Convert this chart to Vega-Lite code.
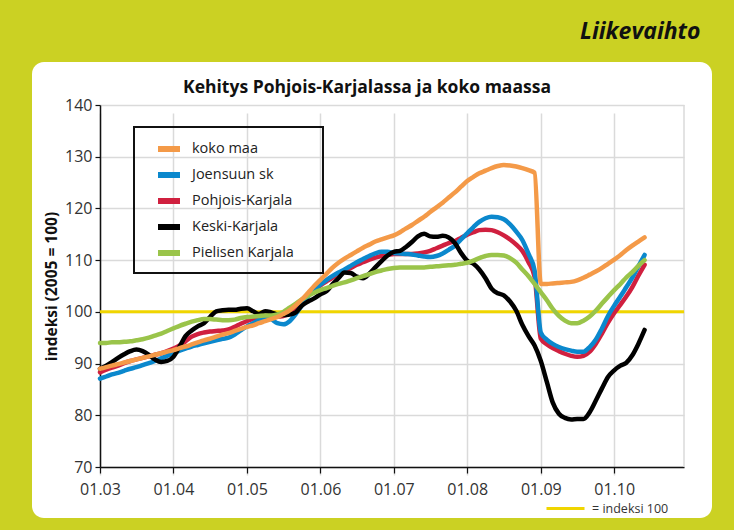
{
  "$schema": "https://vega.github.io/schema/vega-lite/v6.json",
  "width": 680,
  "height": 456,
  "autosize": {"type": "none"},
  "padding": {"left": 32, "top": 62, "right": 22, "bottom": 12},
  "background": "#cbd123",
  "title": {"text": "Kehitys Pohjois-Karjalassa ja koko maassa", "frame": "group", "anchor": "middle", "offset": -32, "dy": 58, "baseline": "alphabetic", "fontSize": 17.5, "font": "Open Sans", "fontWeight": "bold", "color": "#111111", "dx": -5},
  "config": {
    "view": {"fill": "white", "stroke": null, "cornerRadius": 12},
    "font": "Open Sans",
    "legend": {"strokeWidth": 2}
  },
  "layer": [
    {
      "data": {"values": [{}]},
      "mark": {"type": "rule", "color": "#dadada", "strokeWidth": 1.5},
      "encoding": {
        "x": {"datum": {"year": 2010, "month": 12, "date": 14, "utc": true}, "type": "temporal"},
        "y": {"datum": 70, "type": "quantitative"},
        "y2": {"datum": 140}
      }
    },
    {
      "data": {"values": [{"ref": "= indeksi 100", "v": 100}]},
      "mark": {"type": "rule", "strokeWidth": 3},
      "encoding": {
        "x": {"datum": {"year": 2003, "month": 1, "date": 1, "utc": true}, "type": "temporal"},
        "x2": {"datum": {"year": 2010, "month": 12, "date": 14, "utc": true}},
        "y": {"field": "v", "type": "quantitative"},
        "stroke": {"field": "ref", "type": "nominal", "scale": {"range": ["#f0d500"]},
          "legend": {"orient": "none", "legendX": 513, "legendY": 426, "title": null, "symbolType": "stroke", "symbolSize": 1444, "symbolStrokeWidth": 3, "labelFontSize": 12.5, "labelColor": "#333333", "padding": 0, "labelOffset": 6}}
      }
    },
    {
      "data": {"values": [
{"d":"2003-01","s":"Pohjois-Karjala","v":88.3},{"d":"2003-02","s":"Pohjois-Karjala","v":88.8},{"d":"2003-03","s":"Pohjois-Karjala","v":89.2},{"d":"2003-04","s":"Pohjois-Karjala","v":89.6},{"d":"2003-05","s":"Pohjois-Karjala","v":90.1},{"d":"2003-06","s":"Pohjois-Karjala","v":90.5},{"d":"2003-07","s":"Pohjois-Karjala","v":90.8},{"d":"2003-08","s":"Pohjois-Karjala","v":91.1},{"d":"2003-09","s":"Pohjois-Karjala","v":91.4},{"d":"2003-10","s":"Pohjois-Karjala","v":91.7},{"d":"2003-11","s":"Pohjois-Karjala","v":92.0},{"d":"2003-12","s":"Pohjois-Karjala","v":92.4},
{"d":"2004-01","s":"Pohjois-Karjala","v":92.9},{"d":"2004-02","s":"Pohjois-Karjala","v":93.5},{"d":"2004-03","s":"Pohjois-Karjala","v":94.3},{"d":"2004-04","s":"Pohjois-Karjala","v":95.2},{"d":"2004-05","s":"Pohjois-Karjala","v":95.7},{"d":"2004-06","s":"Pohjois-Karjala","v":96.0},{"d":"2004-07","s":"Pohjois-Karjala","v":96.2},{"d":"2004-08","s":"Pohjois-Karjala","v":96.3},{"d":"2004-09","s":"Pohjois-Karjala","v":96.4},{"d":"2004-10","s":"Pohjois-Karjala","v":96.6},{"d":"2004-11","s":"Pohjois-Karjala","v":97.1},{"d":"2004-12","s":"Pohjois-Karjala","v":97.7},
{"d":"2005-01","s":"Pohjois-Karjala","v":98.2},{"d":"2005-02","s":"Pohjois-Karjala","v":98.7},{"d":"2005-03","s":"Pohjois-Karjala","v":99.0},{"d":"2005-04","s":"Pohjois-Karjala","v":99.2},{"d":"2005-05","s":"Pohjois-Karjala","v":99.2},{"d":"2005-06","s":"Pohjois-Karjala","v":99.1},{"d":"2005-07","s":"Pohjois-Karjala","v":99.2},{"d":"2005-08","s":"Pohjois-Karjala","v":99.8},{"d":"2005-09","s":"Pohjois-Karjala","v":100.8},{"d":"2005-10","s":"Pohjois-Karjala","v":102.0},{"d":"2005-11","s":"Pohjois-Karjala","v":103.2},{"d":"2005-12","s":"Pohjois-Karjala","v":104.2},
{"d":"2006-01","s":"Pohjois-Karjala","v":105.1},{"d":"2006-02","s":"Pohjois-Karjala","v":105.9},{"d":"2006-03","s":"Pohjois-Karjala","v":106.6},{"d":"2006-04","s":"Pohjois-Karjala","v":107.3},{"d":"2006-05","s":"Pohjois-Karjala","v":107.9},{"d":"2006-06","s":"Pohjois-Karjala","v":108.5},{"d":"2006-07","s":"Pohjois-Karjala","v":109.1},{"d":"2006-08","s":"Pohjois-Karjala","v":109.6},{"d":"2006-09","s":"Pohjois-Karjala","v":110.1},{"d":"2006-10","s":"Pohjois-Karjala","v":110.5},{"d":"2006-11","s":"Pohjois-Karjala","v":110.8},{"d":"2006-12","s":"Pohjois-Karjala","v":111.0},
{"d":"2007-01","s":"Pohjois-Karjala","v":111.2},{"d":"2007-02","s":"Pohjois-Karjala","v":111.2},{"d":"2007-03","s":"Pohjois-Karjala","v":111.2},{"d":"2007-04","s":"Pohjois-Karjala","v":111.2},{"d":"2007-05","s":"Pohjois-Karjala","v":111.3},{"d":"2007-06","s":"Pohjois-Karjala","v":111.5},{"d":"2007-07","s":"Pohjois-Karjala","v":111.8},{"d":"2007-08","s":"Pohjois-Karjala","v":112.3},{"d":"2007-09","s":"Pohjois-Karjala","v":112.8},{"d":"2007-10","s":"Pohjois-Karjala","v":113.3},{"d":"2007-11","s":"Pohjois-Karjala","v":113.7},{"d":"2007-12","s":"Pohjois-Karjala","v":114.3},
{"d":"2008-01","s":"Pohjois-Karjala","v":114.9},{"d":"2008-02","s":"Pohjois-Karjala","v":115.4},{"d":"2008-03","s":"Pohjois-Karjala","v":115.8},{"d":"2008-04","s":"Pohjois-Karjala","v":115.9},{"d":"2008-05","s":"Pohjois-Karjala","v":115.8},{"d":"2008-06","s":"Pohjois-Karjala","v":115.4},{"d":"2008-07","s":"Pohjois-Karjala","v":114.8},{"d":"2008-08","s":"Pohjois-Karjala","v":114.0},{"d":"2008-09","s":"Pohjois-Karjala","v":113.0},{"d":"2008-10","s":"Pohjois-Karjala","v":111.8},{"d":"2008-11","s":"Pohjois-Karjala","v":109.6},{"d":"2008-12","s":"Pohjois-Karjala","v":106.8},
{"d":"2009-01","s":"Pohjois-Karjala","v":94.8},{"d":"2009-02","s":"Pohjois-Karjala","v":93.7},{"d":"2009-03","s":"Pohjois-Karjala","v":93.0},{"d":"2009-04","s":"Pohjois-Karjala","v":92.4},{"d":"2009-05","s":"Pohjois-Karjala","v":91.9},{"d":"2009-06","s":"Pohjois-Karjala","v":91.5},{"d":"2009-07","s":"Pohjois-Karjala","v":91.3},{"d":"2009-08","s":"Pohjois-Karjala","v":91.5},{"d":"2009-09","s":"Pohjois-Karjala","v":92.3},{"d":"2009-10","s":"Pohjois-Karjala","v":93.8},{"d":"2009-11","s":"Pohjois-Karjala","v":95.8},{"d":"2009-12","s":"Pohjois-Karjala","v":97.9},
{"d":"2010-01","s":"Pohjois-Karjala","v":99.8},{"d":"2010-02","s":"Pohjois-Karjala","v":101.4},{"d":"2010-03","s":"Pohjois-Karjala","v":102.9},{"d":"2010-04","s":"Pohjois-Karjala","v":104.8},{"d":"2010-05","s":"Pohjois-Karjala","v":107.0},{"d":"2010-06","s":"Pohjois-Karjala","v":109.1},

{"d":"2003-01","s":"Joensuun sk","v":87.1},{"d":"2003-02","s":"Joensuun sk","v":87.5},{"d":"2003-03","s":"Joensuun sk","v":87.9},{"d":"2003-04","s":"Joensuun sk","v":88.2},{"d":"2003-05","s":"Joensuun sk","v":88.6},{"d":"2003-06","s":"Joensuun sk","v":89.0},{"d":"2003-07","s":"Joensuun sk","v":89.3},{"d":"2003-08","s":"Joensuun sk","v":89.7},{"d":"2003-09","s":"Joensuun sk","v":90.1},{"d":"2003-10","s":"Joensuun sk","v":90.5},{"d":"2003-11","s":"Joensuun sk","v":91.0},{"d":"2003-12","s":"Joensuun sk","v":91.5},
{"d":"2004-01","s":"Joensuun sk","v":92.0},{"d":"2004-02","s":"Joensuun sk","v":92.5},{"d":"2004-03","s":"Joensuun sk","v":92.9},{"d":"2004-04","s":"Joensuun sk","v":93.3},{"d":"2004-05","s":"Joensuun sk","v":93.6},{"d":"2004-06","s":"Joensuun sk","v":93.9},{"d":"2004-07","s":"Joensuun sk","v":94.2},{"d":"2004-08","s":"Joensuun sk","v":94.5},{"d":"2004-09","s":"Joensuun sk","v":94.8},{"d":"2004-10","s":"Joensuun sk","v":95.0},{"d":"2004-11","s":"Joensuun sk","v":95.6},{"d":"2004-12","s":"Joensuun sk","v":96.4},
{"d":"2005-01","s":"Joensuun sk","v":97.2},{"d":"2005-02","s":"Joensuun sk","v":97.8},{"d":"2005-03","s":"Joensuun sk","v":98.4},{"d":"2005-04","s":"Joensuun sk","v":98.8},{"d":"2005-05","s":"Joensuun sk","v":98.6},{"d":"2005-06","s":"Joensuun sk","v":97.8},{"d":"2005-07","s":"Joensuun sk","v":97.6},{"d":"2005-08","s":"Joensuun sk","v":98.2},{"d":"2005-09","s":"Joensuun sk","v":99.6},{"d":"2005-10","s":"Joensuun sk","v":101.3},{"d":"2005-11","s":"Joensuun sk","v":103.0},{"d":"2005-12","s":"Joensuun sk","v":104.2},
{"d":"2006-01","s":"Joensuun sk","v":105.3},{"d":"2006-02","s":"Joensuun sk","v":106.2},{"d":"2006-03","s":"Joensuun sk","v":106.9},{"d":"2006-04","s":"Joensuun sk","v":107.6},{"d":"2006-05","s":"Joensuun sk","v":108.2},{"d":"2006-06","s":"Joensuun sk","v":108.9},{"d":"2006-07","s":"Joensuun sk","v":109.6},{"d":"2006-08","s":"Joensuun sk","v":110.2},{"d":"2006-09","s":"Joensuun sk","v":110.8},{"d":"2006-10","s":"Joensuun sk","v":111.3},{"d":"2006-11","s":"Joensuun sk","v":111.6},{"d":"2006-12","s":"Joensuun sk","v":111.6},
{"d":"2007-01","s":"Joensuun sk","v":111.4},{"d":"2007-02","s":"Joensuun sk","v":111.3},{"d":"2007-03","s":"Joensuun sk","v":111.2},{"d":"2007-04","s":"Joensuun sk","v":111.1},{"d":"2007-05","s":"Joensuun sk","v":110.9},{"d":"2007-06","s":"Joensuun sk","v":110.7},{"d":"2007-07","s":"Joensuun sk","v":110.6},{"d":"2007-08","s":"Joensuun sk","v":110.8},{"d":"2007-09","s":"Joensuun sk","v":111.3},{"d":"2007-10","s":"Joensuun sk","v":112.0},{"d":"2007-11","s":"Joensuun sk","v":112.8},{"d":"2007-12","s":"Joensuun sk","v":114.0},
{"d":"2008-01","s":"Joensuun sk","v":115.2},{"d":"2008-02","s":"Joensuun sk","v":116.4},{"d":"2008-03","s":"Joensuun sk","v":117.4},{"d":"2008-04","s":"Joensuun sk","v":118.1},{"d":"2008-05","s":"Joensuun sk","v":118.4},{"d":"2008-06","s":"Joensuun sk","v":118.3},{"d":"2008-07","s":"Joensuun sk","v":117.9},{"d":"2008-08","s":"Joensuun sk","v":116.9},{"d":"2008-09","s":"Joensuun sk","v":115.5},{"d":"2008-10","s":"Joensuun sk","v":113.9},{"d":"2008-11","s":"Joensuun sk","v":111.2},{"d":"2008-12","s":"Joensuun sk","v":108.0},
{"d":"2009-01","s":"Joensuun sk","v":96.0},{"d":"2009-02","s":"Joensuun sk","v":94.6},{"d":"2009-03","s":"Joensuun sk","v":93.8},{"d":"2009-04","s":"Joensuun sk","v":93.2},{"d":"2009-05","s":"Joensuun sk","v":92.8},{"d":"2009-06","s":"Joensuun sk","v":92.5},{"d":"2009-07","s":"Joensuun sk","v":92.3},{"d":"2009-08","s":"Joensuun sk","v":92.3},{"d":"2009-09","s":"Joensuun sk","v":93.2},{"d":"2009-10","s":"Joensuun sk","v":94.6},{"d":"2009-11","s":"Joensuun sk","v":96.8},{"d":"2009-12","s":"Joensuun sk","v":99.2},
{"d":"2010-01","s":"Joensuun sk","v":101.2},{"d":"2010-02","s":"Joensuun sk","v":103.0},{"d":"2010-03","s":"Joensuun sk","v":104.7},{"d":"2010-04","s":"Joensuun sk","v":106.6},{"d":"2010-05","s":"Joensuun sk","v":108.8},{"d":"2010-06","s":"Joensuun sk","v":111.0},

{"d":"2003-01","s":"Keski-Karjala","v":89.0},{"d":"2003-02","s":"Keski-Karjala","v":89.6},{"d":"2003-03","s":"Keski-Karjala","v":90.3},{"d":"2003-04","s":"Keski-Karjala","v":91.1},{"d":"2003-05","s":"Keski-Karjala","v":91.8},{"d":"2003-06","s":"Keski-Karjala","v":92.4},{"d":"2003-07","s":"Keski-Karjala","v":92.7},{"d":"2003-08","s":"Keski-Karjala","v":92.4},{"d":"2003-09","s":"Keski-Karjala","v":91.7},{"d":"2003-10","s":"Keski-Karjala","v":90.8},{"d":"2003-11","s":"Keski-Karjala","v":90.3},{"d":"2003-12","s":"Keski-Karjala","v":90.5},
{"d":"2004-01","s":"Keski-Karjala","v":91.3},{"d":"2004-02","s":"Keski-Karjala","v":93.3},{"d":"2004-03","s":"Keski-Karjala","v":95.3},{"d":"2004-04","s":"Keski-Karjala","v":96.4},{"d":"2004-05","s":"Keski-Karjala","v":97.2},{"d":"2004-06","s":"Keski-Karjala","v":97.8},{"d":"2004-07","s":"Keski-Karjala","v":99.0},{"d":"2004-08","s":"Keski-Karjala","v":100.1},{"d":"2004-09","s":"Keski-Karjala","v":100.3},{"d":"2004-10","s":"Keski-Karjala","v":100.4},{"d":"2004-11","s":"Keski-Karjala","v":100.4},{"d":"2004-12","s":"Keski-Karjala","v":100.6},
{"d":"2005-01","s":"Keski-Karjala","v":100.7},{"d":"2005-02","s":"Keski-Karjala","v":100.1},{"d":"2005-03","s":"Keski-Karjala","v":99.6},{"d":"2005-04","s":"Keski-Karjala","v":100.1},{"d":"2005-05","s":"Keski-Karjala","v":99.9},{"d":"2005-06","s":"Keski-Karjala","v":99.5},{"d":"2005-07","s":"Keski-Karjala","v":99.4},{"d":"2005-08","s":"Keski-Karjala","v":99.5},{"d":"2005-09","s":"Keski-Karjala","v":99.9},{"d":"2005-10","s":"Keski-Karjala","v":101.2},{"d":"2005-11","s":"Keski-Karjala","v":102.0},{"d":"2005-12","s":"Keski-Karjala","v":102.6},
{"d":"2006-01","s":"Keski-Karjala","v":103.4},{"d":"2006-02","s":"Keski-Karjala","v":104.0},{"d":"2006-03","s":"Keski-Karjala","v":105.3},{"d":"2006-04","s":"Keski-Karjala","v":106.5},{"d":"2006-05","s":"Keski-Karjala","v":107.6},{"d":"2006-06","s":"Keski-Karjala","v":107.5},{"d":"2006-07","s":"Keski-Karjala","v":106.8},{"d":"2006-08","s":"Keski-Karjala","v":106.5},{"d":"2006-09","s":"Keski-Karjala","v":107.4},{"d":"2006-10","s":"Keski-Karjala","v":108.6},{"d":"2006-11","s":"Keski-Karjala","v":109.8},{"d":"2006-12","s":"Keski-Karjala","v":110.9},
{"d":"2007-01","s":"Keski-Karjala","v":111.6},{"d":"2007-02","s":"Keski-Karjala","v":111.8},{"d":"2007-03","s":"Keski-Karjala","v":112.5},{"d":"2007-04","s":"Keski-Karjala","v":113.5},{"d":"2007-05","s":"Keski-Karjala","v":114.6},{"d":"2007-06","s":"Keski-Karjala","v":115.1},{"d":"2007-07","s":"Keski-Karjala","v":114.6},{"d":"2007-08","s":"Keski-Karjala","v":114.5},{"d":"2007-09","s":"Keski-Karjala","v":114.7},{"d":"2007-10","s":"Keski-Karjala","v":114.4},{"d":"2007-11","s":"Keski-Karjala","v":113.3},{"d":"2007-12","s":"Keski-Karjala","v":111.4},
{"d":"2008-01","s":"Keski-Karjala","v":109.9},{"d":"2008-02","s":"Keski-Karjala","v":109.3},{"d":"2008-03","s":"Keski-Karjala","v":108.2},{"d":"2008-04","s":"Keski-Karjala","v":106.5},{"d":"2008-05","s":"Keski-Karjala","v":104.5},{"d":"2008-06","s":"Keski-Karjala","v":103.6},{"d":"2008-07","s":"Keski-Karjala","v":103.2},{"d":"2008-08","s":"Keski-Karjala","v":102.0},{"d":"2008-09","s":"Keski-Karjala","v":100.2},{"d":"2008-10","s":"Keski-Karjala","v":97.5},{"d":"2008-11","s":"Keski-Karjala","v":95.3},{"d":"2008-12","s":"Keski-Karjala","v":93.5},
{"d":"2009-01","s":"Keski-Karjala","v":90.5},{"d":"2009-02","s":"Keski-Karjala","v":86.3},{"d":"2009-03","s":"Keski-Karjala","v":82.5},{"d":"2009-04","s":"Keski-Karjala","v":80.3},{"d":"2009-05","s":"Keski-Karjala","v":79.5},{"d":"2009-06","s":"Keski-Karjala","v":79.2},{"d":"2009-07","s":"Keski-Karjala","v":79.3},{"d":"2009-08","s":"Keski-Karjala","v":79.3},{"d":"2009-09","s":"Keski-Karjala","v":80.6},{"d":"2009-10","s":"Keski-Karjala","v":82.8},{"d":"2009-11","s":"Keski-Karjala","v":85.2},{"d":"2009-12","s":"Keski-Karjala","v":87.4},
{"d":"2010-01","s":"Keski-Karjala","v":88.7},{"d":"2010-02","s":"Keski-Karjala","v":89.6},{"d":"2010-03","s":"Keski-Karjala","v":90.1},{"d":"2010-04","s":"Keski-Karjala","v":91.6},{"d":"2010-05","s":"Keski-Karjala","v":93.8},{"d":"2010-06","s":"Keski-Karjala","v":96.5},

{"d":"2003-01","s":"Pielisen Karjala","v":94.0},{"d":"2003-02","s":"Pielisen Karjala","v":94.0},{"d":"2003-03","s":"Pielisen Karjala","v":94.1},{"d":"2003-04","s":"Pielisen Karjala","v":94.1},{"d":"2003-05","s":"Pielisen Karjala","v":94.2},{"d":"2003-06","s":"Pielisen Karjala","v":94.3},{"d":"2003-07","s":"Pielisen Karjala","v":94.5},{"d":"2003-08","s":"Pielisen Karjala","v":94.7},{"d":"2003-09","s":"Pielisen Karjala","v":95.0},{"d":"2003-10","s":"Pielisen Karjala","v":95.4},{"d":"2003-11","s":"Pielisen Karjala","v":95.8},{"d":"2003-12","s":"Pielisen Karjala","v":96.3},
{"d":"2004-01","s":"Pielisen Karjala","v":96.8},{"d":"2004-02","s":"Pielisen Karjala","v":97.3},{"d":"2004-03","s":"Pielisen Karjala","v":97.7},{"d":"2004-04","s":"Pielisen Karjala","v":98.1},{"d":"2004-05","s":"Pielisen Karjala","v":98.4},{"d":"2004-06","s":"Pielisen Karjala","v":98.6},{"d":"2004-07","s":"Pielisen Karjala","v":98.6},{"d":"2004-08","s":"Pielisen Karjala","v":98.5},{"d":"2004-09","s":"Pielisen Karjala","v":98.4},{"d":"2004-10","s":"Pielisen Karjala","v":98.4},{"d":"2004-11","s":"Pielisen Karjala","v":98.5},{"d":"2004-12","s":"Pielisen Karjala","v":98.8},
{"d":"2005-01","s":"Pielisen Karjala","v":99.0},{"d":"2005-02","s":"Pielisen Karjala","v":99.1},{"d":"2005-03","s":"Pielisen Karjala","v":99.2},{"d":"2005-04","s":"Pielisen Karjala","v":99.3},{"d":"2005-05","s":"Pielisen Karjala","v":99.3},{"d":"2005-06","s":"Pielisen Karjala","v":99.5},{"d":"2005-07","s":"Pielisen Karjala","v":100.0},{"d":"2005-08","s":"Pielisen Karjala","v":100.8},{"d":"2005-09","s":"Pielisen Karjala","v":101.6},{"d":"2005-10","s":"Pielisen Karjala","v":102.4},{"d":"2005-11","s":"Pielisen Karjala","v":103.1},{"d":"2005-12","s":"Pielisen Karjala","v":103.7},
{"d":"2006-01","s":"Pielisen Karjala","v":104.2},{"d":"2006-02","s":"Pielisen Karjala","v":104.6},{"d":"2006-03","s":"Pielisen Karjala","v":105.0},{"d":"2006-04","s":"Pielisen Karjala","v":105.4},{"d":"2006-05","s":"Pielisen Karjala","v":105.7},{"d":"2006-06","s":"Pielisen Karjala","v":106.1},{"d":"2006-07","s":"Pielisen Karjala","v":106.5},{"d":"2006-08","s":"Pielisen Karjala","v":106.9},{"d":"2006-09","s":"Pielisen Karjala","v":107.3},{"d":"2006-10","s":"Pielisen Karjala","v":107.7},{"d":"2006-11","s":"Pielisen Karjala","v":108.0},{"d":"2006-12","s":"Pielisen Karjala","v":108.3},
{"d":"2007-01","s":"Pielisen Karjala","v":108.5},{"d":"2007-02","s":"Pielisen Karjala","v":108.6},{"d":"2007-03","s":"Pielisen Karjala","v":108.6},{"d":"2007-04","s":"Pielisen Karjala","v":108.6},{"d":"2007-05","s":"Pielisen Karjala","v":108.6},{"d":"2007-06","s":"Pielisen Karjala","v":108.6},{"d":"2007-07","s":"Pielisen Karjala","v":108.7},{"d":"2007-08","s":"Pielisen Karjala","v":108.8},{"d":"2007-09","s":"Pielisen Karjala","v":108.9},{"d":"2007-10","s":"Pielisen Karjala","v":109.0},{"d":"2007-11","s":"Pielisen Karjala","v":109.1},{"d":"2007-12","s":"Pielisen Karjala","v":109.3},
{"d":"2008-01","s":"Pielisen Karjala","v":109.5},{"d":"2008-02","s":"Pielisen Karjala","v":109.9},{"d":"2008-03","s":"Pielisen Karjala","v":110.4},{"d":"2008-04","s":"Pielisen Karjala","v":110.8},{"d":"2008-05","s":"Pielisen Karjala","v":111.0},{"d":"2008-06","s":"Pielisen Karjala","v":111.0},{"d":"2008-07","s":"Pielisen Karjala","v":110.9},{"d":"2008-08","s":"Pielisen Karjala","v":110.4},{"d":"2008-09","s":"Pielisen Karjala","v":109.5},{"d":"2008-10","s":"Pielisen Karjala","v":108.2},{"d":"2008-11","s":"Pielisen Karjala","v":106.9},{"d":"2008-12","s":"Pielisen Karjala","v":105.4},
{"d":"2009-01","s":"Pielisen Karjala","v":103.8},{"d":"2009-02","s":"Pielisen Karjala","v":102.2},{"d":"2009-03","s":"Pielisen Karjala","v":100.6},{"d":"2009-04","s":"Pielisen Karjala","v":99.2},{"d":"2009-05","s":"Pielisen Karjala","v":98.3},{"d":"2009-06","s":"Pielisen Karjala","v":97.8},{"d":"2009-07","s":"Pielisen Karjala","v":97.8},{"d":"2009-08","s":"Pielisen Karjala","v":98.3},{"d":"2009-09","s":"Pielisen Karjala","v":99.1},{"d":"2009-10","s":"Pielisen Karjala","v":100.2},{"d":"2009-11","s":"Pielisen Karjala","v":101.6},{"d":"2009-12","s":"Pielisen Karjala","v":102.9},
{"d":"2010-01","s":"Pielisen Karjala","v":104.2},{"d":"2010-02","s":"Pielisen Karjala","v":105.4},{"d":"2010-03","s":"Pielisen Karjala","v":106.6},{"d":"2010-04","s":"Pielisen Karjala","v":107.7},{"d":"2010-05","s":"Pielisen Karjala","v":108.9},{"d":"2010-06","s":"Pielisen Karjala","v":110.0},

{"d":"2003-01","s":"koko maa","v":89.0},{"d":"2003-02","s":"koko maa","v":89.3},{"d":"2003-03","s":"koko maa","v":89.6},{"d":"2003-04","s":"koko maa","v":89.9},{"d":"2003-05","s":"koko maa","v":90.2},{"d":"2003-06","s":"koko maa","v":90.5},{"d":"2003-07","s":"koko maa","v":90.8},{"d":"2003-08","s":"koko maa","v":91.1},{"d":"2003-09","s":"koko maa","v":91.4},{"d":"2003-10","s":"koko maa","v":91.7},{"d":"2003-11","s":"koko maa","v":92.0},{"d":"2003-12","s":"koko maa","v":92.3},
{"d":"2004-01","s":"koko maa","v":92.6},{"d":"2004-02","s":"koko maa","v":93.0},{"d":"2004-03","s":"koko maa","v":93.3},{"d":"2004-04","s":"koko maa","v":93.7},{"d":"2004-05","s":"koko maa","v":94.1},{"d":"2004-06","s":"koko maa","v":94.5},{"d":"2004-07","s":"koko maa","v":94.8},{"d":"2004-08","s":"koko maa","v":95.2},{"d":"2004-09","s":"koko maa","v":95.6},{"d":"2004-10","s":"koko maa","v":95.9},{"d":"2004-11","s":"koko maa","v":96.3},{"d":"2004-12","s":"koko maa","v":96.7},
{"d":"2005-01","s":"koko maa","v":97.1},{"d":"2005-02","s":"koko maa","v":97.4},{"d":"2005-03","s":"koko maa","v":97.8},{"d":"2005-04","s":"koko maa","v":98.2},{"d":"2005-05","s":"koko maa","v":98.6},{"d":"2005-06","s":"koko maa","v":99.0},{"d":"2005-07","s":"koko maa","v":99.6},{"d":"2005-08","s":"koko maa","v":100.3},{"d":"2005-09","s":"koko maa","v":101.3},{"d":"2005-10","s":"koko maa","v":102.4},{"d":"2005-11","s":"koko maa","v":103.7},{"d":"2005-12","s":"koko maa","v":105.0},
{"d":"2006-01","s":"koko maa","v":106.2},{"d":"2006-02","s":"koko maa","v":107.4},{"d":"2006-03","s":"koko maa","v":108.5},{"d":"2006-04","s":"koko maa","v":109.5},{"d":"2006-05","s":"koko maa","v":110.3},{"d":"2006-06","s":"koko maa","v":111.0},{"d":"2006-07","s":"koko maa","v":111.7},{"d":"2006-08","s":"koko maa","v":112.4},{"d":"2006-09","s":"koko maa","v":113.0},{"d":"2006-10","s":"koko maa","v":113.6},{"d":"2006-11","s":"koko maa","v":114.0},{"d":"2006-12","s":"koko maa","v":114.4},
{"d":"2007-01","s":"koko maa","v":114.8},{"d":"2007-02","s":"koko maa","v":115.4},{"d":"2007-03","s":"koko maa","v":116.1},{"d":"2007-04","s":"koko maa","v":116.8},{"d":"2007-05","s":"koko maa","v":117.6},{"d":"2007-06","s":"koko maa","v":118.4},{"d":"2007-07","s":"koko maa","v":119.3},{"d":"2007-08","s":"koko maa","v":120.2},{"d":"2007-09","s":"koko maa","v":121.1},{"d":"2007-10","s":"koko maa","v":122.1},{"d":"2007-11","s":"koko maa","v":123.1},{"d":"2007-12","s":"koko maa","v":124.2},
{"d":"2008-01","s":"koko maa","v":125.3},{"d":"2008-02","s":"koko maa","v":126.1},{"d":"2008-03","s":"koko maa","v":126.8},{"d":"2008-04","s":"koko maa","v":127.3},{"d":"2008-05","s":"koko maa","v":127.8},{"d":"2008-06","s":"koko maa","v":128.2},{"d":"2008-07","s":"koko maa","v":128.4},{"d":"2008-08","s":"koko maa","v":128.3},{"d":"2008-09","s":"koko maa","v":128.1},{"d":"2008-10","s":"koko maa","v":127.8},{"d":"2008-11","s":"koko maa","v":127.4},{"d":"2008-12","s":"koko maa","v":126.9},
{"d":"2009-01","s":"koko maa","v":105.4},{"d":"2009-02","s":"koko maa","v":105.4},{"d":"2009-03","s":"koko maa","v":105.5},{"d":"2009-04","s":"koko maa","v":105.6},{"d":"2009-05","s":"koko maa","v":105.7},{"d":"2009-06","s":"koko maa","v":105.8},{"d":"2009-07","s":"koko maa","v":106.1},{"d":"2009-08","s":"koko maa","v":106.6},{"d":"2009-09","s":"koko maa","v":107.2},{"d":"2009-10","s":"koko maa","v":107.8},{"d":"2009-11","s":"koko maa","v":108.5},{"d":"2009-12","s":"koko maa","v":109.3},
{"d":"2010-01","s":"koko maa","v":110.1},{"d":"2010-02","s":"koko maa","v":111.0},{"d":"2010-03","s":"koko maa","v":111.9},{"d":"2010-04","s":"koko maa","v":112.8},{"d":"2010-05","s":"koko maa","v":113.6},{"d":"2010-06","s":"koko maa","v":114.4}
      ]},
      "mark": {"type": "line", "interpolate": "monotone", "strokeWidth": 4.5, "strokeCap": "round", "strokeJoin": "round"},
      "encoding": {
        "x": {"field": "d", "type": "temporal",
          "scale": {"type": "utc", "domain": [{"year": 2003, "month": 1, "date": 1, "utc": true}, {"year": 2010, "month": 12, "date": 14, "utc": true}], "range": [68, 652], "nice": false},
          "axis": {"format": "%m.%y", "tickCount": {"interval": "year", "step": 1}, "offset": -51, "grid": true, "gridColor": "#dadada", "gridWidth": 1.5, "domainColor": "#111111", "domainWidth": 1.5, "tickColor": "#111111", "tickSize": 6, "tickWidth": 1.2, "labelFontSize": 16, "labelColor": "#333333", "labelPadding": 8, "labelFlush": false, "labelOverlap": false,
            "title": "Liikevaihto", "titleX": 668, "titleY": -429, "titleAlign": "right", "titleBaseline": "alphabetic", "titleFontSize": 23, "titleFontStyle": "italic", "titleFontWeight": "bold", "titleColor": "#111111"}},
        "y": {"field": "v", "type": "quantitative",
          "scale": {"domain": [70, 140], "range": [405, 43], "nice": false, "zero": false},
          "axis": {"values": [70, 80, 90, 100, 110, 120, 130, 140], "offset": -68, "grid": true, "gridColor": "#dadada", "gridWidth": 1.5, "domainColor": "#111111", "domainWidth": 1.5, "tickColor": "#111111", "tickSize": 5, "tickWidth": 1.2, "labelFontSize": 16, "labelColor": "#333333", "labelPadding": 3,
            "title": "indeksi (2005 = 100)", "titleFontSize": 15.5, "titleFontWeight": "bold", "titleColor": "#111111", "titlePadding": 5}},
        "color": {"field": "s", "type": "nominal",
          "scale": {"domain": ["koko maa", "Joensuun sk", "Pohjois-Karjala", "Keski-Karjala", "Pielisen Karjala"], "range": ["#f49a48", "#0b88cd", "#d0203f", "#000000", "#9ac44a"]},
          "legend": {"orient": "none", "legendX": 102, "legendY": 65, "title": "\u00a0", "titleOrient": "right", "titlePadding": 21, "titleFontSize": 6, "symbolType": "stroke", "symbolStrokeWidth": 6, "symbolSize": 484, "labelFontSize": 14.5, "labelColor": "#222222", "padding": 8, "symbolOffset": 13, "rowPadding": 0, "strokeColor": "#111111", "labelOffset": 9}}
      }
    }
  ]
}
